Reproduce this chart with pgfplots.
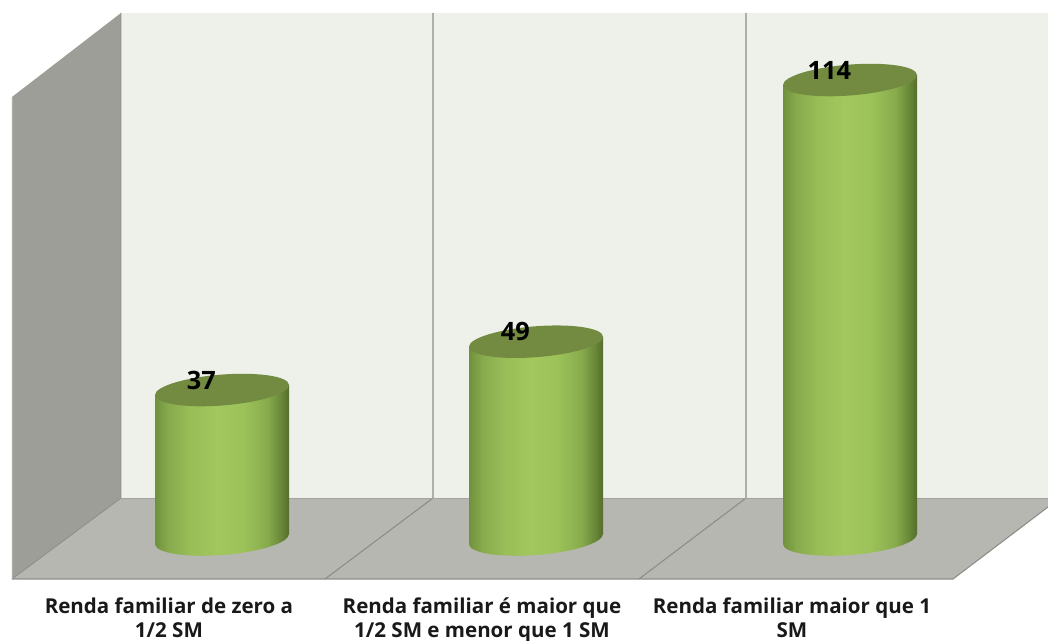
\documentclass[border=0pt]{standalone}
\usepackage{pgfplots}
\pgfplotsset{compat=1.18}
\usepackage{fontspec}
\setmainfont{Open Sans}
\definecolor{wallback}{HTML}{EEF1EA}
\definecolor{wallleft}{HTML}{9C9E97}
\definecolor{floorc}{HTML}{B5B7B0}
\definecolor{gridc}{HTML}{8C8C88}
\definecolor{topc}{HTML}{738B41}
\pgfdeclarehorizontalshading{cyl}{100bp}{
  rgb(0bp)=(0.44,0.57,0.24);
  rgb(25bp)=(0.44,0.57,0.24);
  rgb(30bp)=(0.53,0.67,0.30);
  rgb(38bp)=(0.60,0.74,0.34);
  rgb(48bp)=(0.64,0.78,0.37);
  rgb(58bp)=(0.61,0.76,0.35);
  rgb(67bp)=(0.53,0.67,0.30);
  rgb(72bp)=(0.41,0.53,0.22);
  rgb(75bp)=(0.33,0.43,0.17);
  rgb(100bp)=(0.33,0.43,0.17)}
\pgfdeclareplotmark{cyltop}{%
  \pgfpathellipse{\pgfpointorigin}{\pgfqpoint{50.25pt}{3.75pt}}{\pgfqpoint{0pt}{11.6pt}}%
  \pgfusepathqfill}
\pgfdeclareplotmark{cylbase}{%
  \pgfpathellipse{\pgfpointorigin}{\pgfqpoint{50.25pt}{3.75pt}}{\pgfqpoint{0pt}{12pt}}%
  \pgfshadepath{cyl}{0}\pgfusepath{discard}}
\begin{document}
\begin{tikzpicture}
\useasboundingbox (0,-46.5pt) rectangle (786pt,434.25pt);
\begin{axis}[
  at={(0,0)}, anchor=south west,
  scale only axis, width=786pt, height=434.25pt,
  xmin=-0.70701, xmax=2.63057,
  ymin=-9.935, ymax=133.88,
  clip=false,
  axis line style={draw=none},
  major tick length=0pt,
  ytick=\empty,
  xtick={-0.169,0.828,1.815},
  xticklabels={Renda familiar de zero a\\1/2 SM,
               Renda familiar é maior que\\1/2 SM e menor que 1 SM,
               Renda familiar maior que 1\\SM},
  xticklabel style={align=center, font=\fontsize{15.4pt}{18pt}\selectfont\bfseries,
                    text=black!90, yshift=-10.5pt},
]
% walls and floor
\addplot[draw=none, fill=wallback] coordinates {(-0.3217,130.65) (2.63057,130.65) (2.63057,10.18) (-0.3217,10.18)} --cycle;
\addplot[draw=none, fill=wallleft] coordinates {(-0.6688,109.79) (-0.3217,130.65) (-0.3217,10.18) (-0.6688,-9.935)} --cycle;
\addplot[draw=none, fill=floorc] coordinates {(-0.6688,-9.935) (-0.3217,10.18) (2.63057,10.18) (2.63057,7.95) (2.3280,-9.935)} --cycle;
\addplot[gridc, line width=.8pt] coordinates {(0.6720,130.65) (0.6720,10.18) (0.3280,-9.935)};
\addplot[gridc, line width=.8pt] coordinates {(1.6688,130.65) (1.6688,10.18) (1.3280,-9.935)};
\addplot[gridc, line width=.6pt] coordinates {(-0.3217,130.65) (-0.3217,10.18) (-0.6688,-9.935)};
\addplot[gridc!80, line width=.6pt] coordinates {(-0.3217,10.18) (2.63057,10.18)};
\addplot[gridc, line width=.8pt] coordinates {(-0.6688,-9.935) (2.3280,-9.935) (2.63057,7.95)};
\addplot[gridc!70, line width=.5pt] coordinates {(-0.6688,109.79) (-0.6688,-9.935)};
% cylinders
\addplot[only marks, mark=cylbase] coordinates {(0,0) (1,0) (2,0)};
\addplot[ybar, bar width=100.5pt, bar shift=0pt, draw=none, shade, shading=cyl, yslant=0.0746, yshift=-12.42pt] coordinates {(0,37)};
\addplot[ybar, bar width=100.5pt, bar shift=0pt, draw=none, shade, shading=cyl, yslant=0.0746, yshift=-30.05pt] coordinates {(1,49)};
\addplot[ybar, bar width=100.5pt, bar shift=0pt, draw=none, shade, shading=cyl, yslant=0.0746, yshift=-47.55pt] coordinates {(2,114)};
\addplot[only marks, mark=cyltop, mark options={fill=topc, draw=none},
  point meta=explicit symbolic,
  nodes near coords,
  every node near coord/.style={anchor=center, xshift=-15.5pt, yshift=7.5pt,
    font=\fontsize{19pt}{19pt}\selectfont\bfseries, text=black}]
  coordinates {(0,37) [37] (1,49) [49] (2,114) [114]};
\end{axis}
\end{tikzpicture}
\end{document}
